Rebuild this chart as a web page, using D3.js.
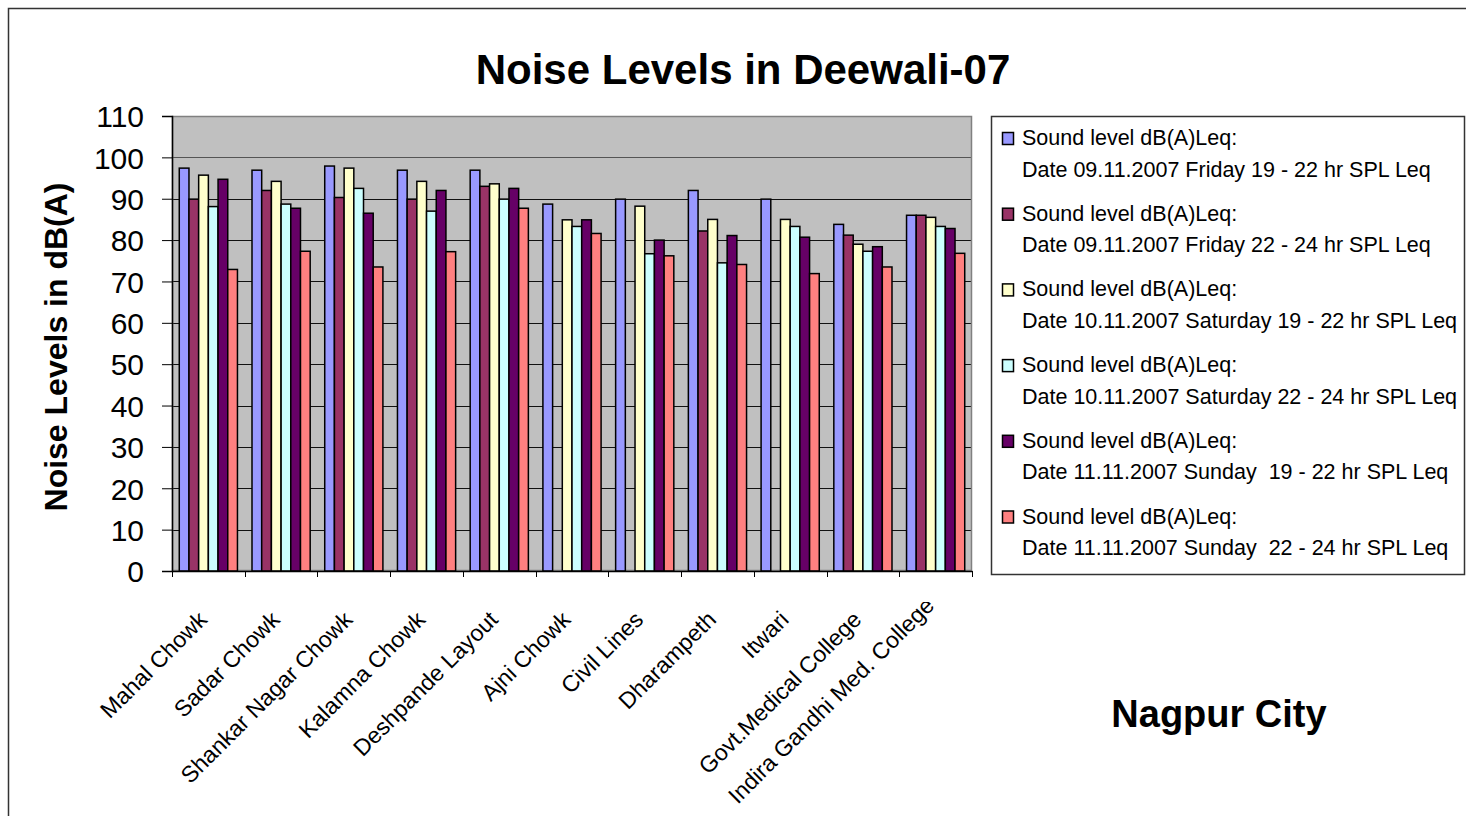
<!DOCTYPE html>
<html><head><meta charset="utf-8">
<script src="https://cdn.jsdelivr.net/npm/d3@7"></script>
<style>
html,body{margin:0;padding:0;background:#fff;}
svg{display:block;font-family:"Liberation Sans",Arial,sans-serif;}
</style></head>
<body><svg id="c" width="1466" height="816"></svg>
<script>
const categories = ["Mahal Chowk","Sadar Chowk","Shankar Nagar Chowk","Kalamna Chowk","Deshpande Layout","Ajni Chowk","Civil Lines","Dharampeth","Itwari","Govt.Medical College","Indira Gandhi Med. College"];
const seriesNames = [
  ["Sound level dB(A)Leq:","Date 09.11.2007 Friday 19 - 22 hr SPL Leq"],
  ["Sound level dB(A)Leq:","Date 09.11.2007 Friday 22 - 24 hr SPL Leq"],
  ["Sound level dB(A)Leq:","Date 10.11.2007 Saturday 19 - 22 hr SPL Leq"],
  ["Sound level dB(A)Leq:","Date 10.11.2007 Saturday 22 - 24 hr SPL Leq"],
  ["Sound level dB(A)Leq:","Date 11.11.2007 Sunday  19 - 22 hr SPL Leq"],
  ["Sound level dB(A)Leq:","Date 11.11.2007 Sunday  22 - 24 hr SPL Leq"]
];
const friEvening = [97.4, 96.9, 97.9, 96.9, 96.9, 88.7, 89.9, 92.0, 89.9, 83.8, 86.0];
const friNight   = [89.9, 92.0, 90.3, 89.9, 93.0, null, null, 82.2, null, 81.2, 86.0];
const satEvening = [95.7, 94.2, 97.4, 94.2, 93.6, 84.9, 88.2, 85.0, 85.0, 79.0, 85.5];
const satNight   = [88.1, 88.7, 92.5, 87.0, 89.9, 83.3, 76.7, 74.5, 83.3, 77.3, 83.3];
const sunEvening = [94.7, 87.7, 86.5, 92.0, 92.5, 84.9, 80.0, 81.1, 80.7, 78.4, 82.8];
const sunNight   = [72.9, 77.3, 73.5, 77.2, 87.7, 81.6, 76.2, 74.1, 71.9, 73.5, 76.8];
const yTicks = [0,10,20,30,40,50,60,70,80,90,100,110];
const colors = ["#9999FF","#993366","#FFFFCC","#CCFFFF","#660066","#FF8080"];

const series = [friEvening, friNight, satEvening, satNight, sunEvening, sunNight];

const svg = d3.select("#c");
const plot = {left:172, right:972, top:116, bottom:571};

// outer frame (top & left visible)
svg.append("path").attr("d","M8.5,820 V8.5 H1470").attr("fill","none").attr("stroke","#333").attr("stroke-width",1.5);

const y = d3.scaleLinear().domain([0,110]).range([plot.bottom, plot.top]);
const x = d3.scaleBand().domain(categories).range([plot.left, plot.right]);
const xs = d3.scaleBand().domain(d3.range(series.length)).range([0, x.bandwidth()]).paddingOuter(0.75);

// plot background
svg.append("rect").attr("x",plot.left).attr("y",plot.top).attr("width",plot.right-plot.left).attr("height",plot.bottom-plot.top).attr("fill","#C0C0C0");
// gridlines
svg.append("g").selectAll("line").data(yTicks.filter(t=>t>0 && t<110)).join("line")
  .attr("x1",plot.left).attr("x2",plot.right).attr("y1",d=>Math.round(y(d))+0.5).attr("y2",d=>Math.round(y(d))+0.5)
  .attr("stroke",(d)=>d===100?"#555":"#111").attr("stroke-width",1);
// plot border
svg.append("rect").attr("x",plot.left+0.5).attr("y",plot.top+0.5).attr("width",plot.right-plot.left-1).attr("height",plot.bottom-plot.top-1).attr("fill","none").attr("stroke","#808080").attr("stroke-width",1.5);

// bars
const data = [];
categories.forEach((c,i)=>series.forEach((s,j)=>{ if(s[i]!=null) data.push({c, j, v:s[i]}); }));
svg.append("g").selectAll("rect").data(data).join("rect")
  .attr("x",d=>x(d.c)+xs(d.j)).attr("width",xs.bandwidth())
  .attr("y",d=>y(d.v)).attr("height",d=>y(0)-y(d.v))
  .attr("fill",d=>colors[d.j]).attr("stroke","#000").attr("stroke-width",1.5);

// y axis
const yAxis = svg.append("g").attr("transform",`translate(${plot.left},0)`)
  .call(d3.axisLeft(y).tickValues(yTicks).tickSize(10).tickPadding(18).tickFormat(d3.format("d")));
yAxis.select(".domain").attr("stroke","#000").attr("stroke-width",1.5);
yAxis.selectAll(".tick line").attr("stroke","#000");
yAxis.selectAll("text").attr("font-size",30).attr("fill","#000").attr("font-family","Liberation Sans, Arial, sans-serif").attr("dy","0.36em");

// x axis
const xAxis = svg.append("g").attr("transform",`translate(0,${plot.bottom})`)
  .call(d3.axisBottom(x).tickSize(0).tickFormat(""));
xAxis.select(".domain").attr("stroke","#000").attr("stroke-width",1.5);
xAxis.selectAll(".tick").remove();
svg.append("g").selectAll("line").data(d3.range(categories.length+1)).join("line")
  .attr("x1",i=>Math.round(plot.left + i*x.step())+0.5).attr("x2",i=>Math.round(plot.left + i*x.step())+0.5)
  .attr("y1",plot.bottom).attr("y2",plot.bottom+6).attr("stroke","#000").attr("stroke-width",1);

// x labels (rotated; labels too long for the space below are raised and clipped at the top, as in the original)
svg.append("defs").append("clipPath").attr("id","lblclip").append("rect").attr("x",0).attr("y",602).attr("width",1466).attr("height",300);
const labelBaseY = 621, labelMaxBottom = 805;
const lbls = svg.append("g").attr("clip-path","url(#lblclip)").selectAll("text").data(categories).join("text")
  .attr("text-anchor","end").attr("font-size",23).attr("fill","#000")
  .text(d=>d);
lbls.attr("transform",function(d){
  const L = this.getComputedTextLength();
  const drop = L/Math.SQRT2;
  const ay = Math.min(labelBaseY, labelMaxBottom - drop);
  return `translate(${x(d)+x.bandwidth()/2},${ay}) rotate(-45)`;
});

// title
svg.append("text").attr("x",743).attr("y",84).attr("text-anchor","middle")
  .attr("font-size",42).attr("font-weight","bold").text("Noise Levels in Deewali-07");
// y title
svg.append("text").attr("transform","translate(67,347) rotate(-90)").attr("text-anchor","middle")
  .attr("font-size",32).attr("font-weight","bold").text("Noise Levels in dB(A)");
// Nagpur City
svg.append("text").attr("x",1219).attr("y",727).attr("text-anchor","middle")
  .attr("font-size",38).attr("font-weight","bold").text("Nagpur City");

// legend
const lg = svg.append("g");
lg.append("rect").attr("x",991.5).attr("y",116.5).attr("width",473).attr("height",458).attr("fill","#fff").attr("stroke","#333").attr("stroke-width",1.5);
const items = lg.selectAll("g.item").data(seriesNames).join("g").attr("class","item")
  .attr("transform",(d,i)=>`translate(0,${145 + i*75.7})`);
items.append("rect").attr("x",1002.5).attr("y",-12.5).attr("width",11).attr("height",12)
  .attr("fill",(d,i)=>colors[i]).attr("stroke","#000").attr("stroke-width",1.5);
items.append("text").attr("x",1022).attr("y",0).attr("font-size",21.5).style("white-space","pre").text(d=>d[0]);
items.append("text").attr("x",1022).attr("y",31.7).attr("font-size",21.5).style("white-space","pre").text(d=>d[1]);
</script></body></html>
